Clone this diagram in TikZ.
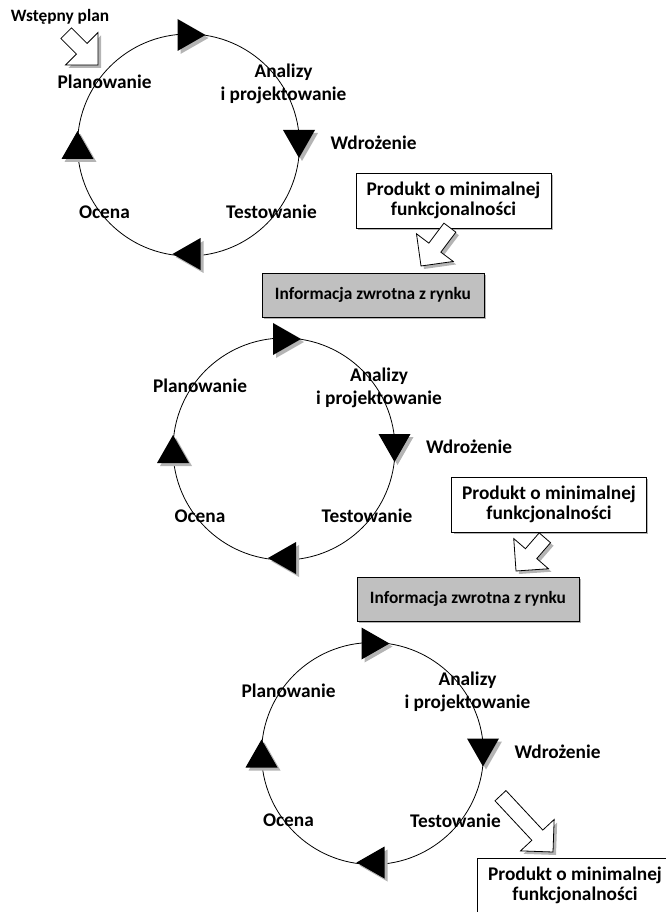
\documentclass[tikz,border=0pt]{standalone}
\usepackage{fontspec}
\setmainfont{Carlito}
\definecolor{shadowgray}{HTML}{B4B4B4}
\definecolor{boxgray}{HTML}{C0C0C0}
\tikzset{
  lbl/.style={font=\bfseries\fontsize{14.5}{15}\selectfont, inner sep=0pt},
  smalllbl/.style={font=\bfseries\fontsize{13}{14}\selectfont, inner sep=0pt},
  prodbox/.style={draw, line width=0.6pt, fill=white, minimum width=146.25pt, minimum height=41.25pt,
    align=center, inner sep=0pt, font=\bfseries\fontsize{14.5}{15.5}\selectfont},
  infobox/.style={draw, line width=0.6pt, fill=boxgray, minimum width=166.5pt, minimum height=33pt,
    inner sep=0pt, font=\bfseries\fontsize{13}{15}\selectfont},
  ring/.style={circle, draw, line width=0.6pt, minimum size=166.5pt, inner sep=0pt},
}
\newcommand\marker[2]{%
  \fill[shadowgray, shift={(#1)}, shift={(3,3)}, rotate=#2] (-14,-16) -- (14,0) -- (-14,16) -- cycle;
  \fill[black, shift={(#1)}, rotate=#2] (-14,-16) -- (14,0) -- (-14,16) -- cycle;}
\newcommand\blkarrow[3]{%
  \fill[shadowgray, shift={(#1)}, shift={(3,3)}, rotate=-#2]
    (0,0) -- (-23,-23) -- (-23,-7.5) -- (-#3,-7.5) -- (-#3,7.5) -- (-23,7.5) -- (-23,23) -- cycle;
  \draw[line width=0.6pt, fill=white, shift={(#1)}, rotate=-#2]
    (0,0) -- (-23,-23) -- (-23,-7.5) -- (-#3,-7.5) -- (-#3,7.5) -- (-23,7.5) -- (-23,23) -- cycle;}
\newcommand\devcycle[2]{%
  \begin{scope}[shift={#2}]
    \node[ring] (#1ring) at (0,0) {};
    \marker{3,-110}{0}
    \marker{110.5,-1}{-90}
    \marker{-2,109}{180}
    \marker{-111,0}{90}
    \node[lbl] (#1plan) at (-84,-63) {Planowanie};
    \node[lbl] (#1anal) at (95,-73) {Analizy};
    \node[lbl] (#1proj) at (95,-50) {i projektowanie};
    \node[lbl] (#1wdr) at (185,-2) {Wdrożenie};
    \node[lbl] (#1test) at (83,67) {Testowanie};
    \node[lbl] (#1ocena) at (-84,67) {Ocena};
  \end{scope}}
\begin{document}
\begin{tikzpicture}[x=0.75pt, y=-0.75pt]
\useasboundingbox (0,0) rectangle (666,912);
\clip (0,0) rectangle (666,912);
% cycle 1
\devcycle{a}{(188.5,145)}
\node[smalllbl] (start) at (60,17) {Wstępny plan};
\coordinate (tipA) at (98,65);
\blkarrow{tipA}{45}{45}
\fill[shadowgray] (358,175) rectangle (553,230);
\node[prodbox] (prod1) at (453.5,200.5) {Produkt o minimalnej\\funkcjonalności};
\coordinate (tipB) at (421,266);
\blkarrow{tipB}{127}{48}
\fill[shadowgray] (264,275) rectangle (486,319);
\node[infobox] (info1) at (373,295) {Informacja zwrotna z rynku};
% cycle 2
\devcycle{b}{(284,449)}
\fill[shadowgray] (454,479) rectangle (648,534);
\node[prodbox] (prod2) at (549,504.5) {Produkt o minimalnej\\funkcjonalności};
\coordinate (tipC) at (516,571);
\blkarrow{tipC}{131}{44}
\fill[shadowgray] (359,579) rectangle (581,623);
\node[infobox] (info2) at (468,599) {Informacja zwrotna z rynku};
% cycle 3
\devcycle{c}{(372.5,753.5)}
\coordinate (tipD) at (553,852);
\blkarrow{tipD}{47}{77}
\node[prodbox] (prod3) at (575,885.5) {Produkt o minimalnej\\funkcjonalności};
\end{tikzpicture}
\end{document}
